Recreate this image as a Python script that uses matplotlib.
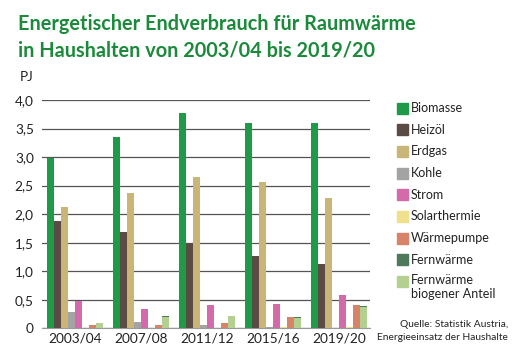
import matplotlib.pyplot as plt
from matplotlib.patches import Rectangle
import numpy as np

# data (PJ)
years = ['2003/04', '2007/08', '2011/12', '2015/16', '2019/20']
biomasse = [2.98, 3.35, 3.78, 3.59, 3.59]
heizoel = [1.88, 1.68, 1.50, 1.26, 1.13]
erdgas = [2.12, 2.37, 2.65, 2.56, 2.29]
kohle = [0.29, 0.11, 0.05, 0.03, 0.0]
strom = [0.48, 0.33, 0.40, 0.43, 0.59]
solar = [0.01, 0.01, 0.01, 0.02, 0.03]
waermepumpe = [0.06, 0.05, 0.09, 0.19, 0.41]
fernwaerme = [0.10, 0.21, 0.22, 0.19, 0.39]
fern_biogen = [0.09, 0.20, 0.21, 0.18, 0.37]

labels = ['Biomasse', 'Heizöl', 'Erdgas', 'Kohle', 'Strom', 'Solarthermie',
          'Wärmepumpe', 'Fernwärme', 'Fernwärme\nbiogener Anteil']
colors = ['#1f9a48', '#5a4b45', '#c9b577', '#a3a3a3', '#d36aa9', '#efe08e',
          '#d7836a', '#4e7a5b', '#b4d090']

plt.rcParams['font.family'] = ['Lato', 'DejaVu Sans']

fig = plt.figure(figsize=(5.2, 3.55), dpi=100)
ax = fig.add_axes([0.081, 0.0752, 0.631, 0.643])

x = np.arange(len(years))
w = 0.106
# Fernwärme and its biogenic share use one slot, the share drawn in front
slots = [biomasse, heizoel, erdgas, kohle, strom, solar, waermepumpe]
for j, vals in enumerate(slots):
    ax.bar(x + (j - 3.5) * w, vals, w, color=colors[j], zorder=3)
ax.bar(x + 3.5 * w, fernwaerme, w, color=colors[7], zorder=3)
ax.bar(x + 3.5 * w, fern_biogen, w, color=colors[8], zorder=4)

ax.set_ylim(0, 4.0)
ax.set_xlim(-0.5, 4.47)
ax.set_yticks(np.arange(0, 4.01, 0.5))
ax.set_yticklabels(['0'] + [f'{v:.1f}'.replace('.', ',') for v in np.arange(0.5, 4.01, 0.5)])
ax.set_xticks(x)
ax.set_xticklabels(years)
ax.tick_params(length=0, labelsize=9.8, colors='#222222', pad=3)
ax.tick_params(axis='y', pad=6)
for s in ['top', 'right', 'left']:
    ax.spines[s].set_visible(False)
ax.spines['bottom'].set_color('#999999')
ax.grid(axis='y', color='#555555', linewidth=0.9, zorder=0)
ax.set_axisbelow(True)

fig.text(0.038, 0.772, 'PJ', fontsize=9.8, color='#222222')

fig.text(0.035, 0.915, 'Energetischer Endverbrauch für Raumwärme', fontsize=14.3,
         fontweight='bold', color='#1b8a3b')
fig.text(0.035, 0.842, 'in Haushalten von 2003/04 bis 2019/20', fontsize=14.3,
         fontweight='bold', color='#1b8a3b')

# legend drawn by hand
for i, (lab, c) in enumerate(zip(labels, colors)):
    yc = 355 - (108 + i * 21.7)
    fig.patches.append(Rectangle((397 / 520, (yc - 5.5) / 355), 11 / 520, 11 / 355,
                                 color=c, transform=fig.transFigure))
    if '\n' in lab:
        fig.text(411 / 520, (yc + 7.5) / 355, lab, fontsize=9, va='top',
                 color='#222222', linespacing=1.2)
    else:
        fig.text(411 / 520, yc / 355, lab, fontsize=9, va='center', color='#222222')

fig.text(508 / 520, 28 / 355, 'Quelle: Statistik Austria,', fontsize=7.4,
         ha='right', color='#222222')
fig.text(508 / 520, 15 / 355, 'Energieeinsatz der Haushalte', fontsize=7.4,
         ha='right', color='#222222')

fig.savefig('out.png', dpi=100)
